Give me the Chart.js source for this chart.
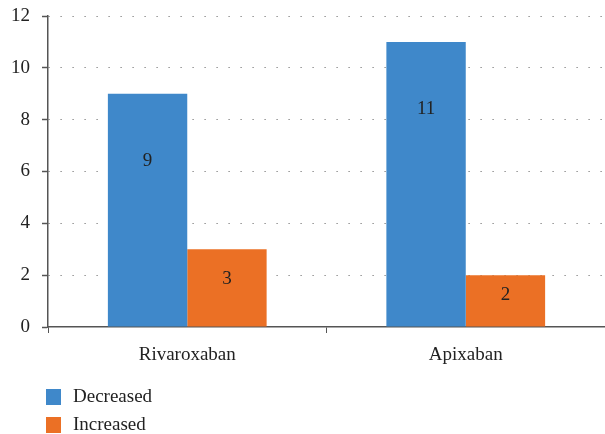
<!DOCTYPE html>
<html>
<head>
<meta charset="utf-8">
<script src="https://cdn.jsdelivr.net/npm/chart.js@4"></script>
<style>
  html, body { margin: 0; padding: 0; background: #fff; }
  #wrap { width: 605px; height: 434px; position: relative; }
</style>
</head>
<body>
<div id="wrap"><canvas id="c" width="605" height="434"></canvas></div>
<script>
// Data
const categories = ['Rivaroxaban', 'Apixaban'];
const decreased = [9, 11];
const increased = [3, 2];
const seriesNames = ['Decreased', 'Increased'];
const yTicks = [0, 2, 4, 6, 8, 10, 12];

const BLUE = '#3F88CA';
const ORANGE = '#EB7025';
const FONT = '"Liberation Serif", "DejaVu Serif", serif';

// Value labels drawn inside each bar
const barLabels = {
  id: 'barLabels',
  afterDatasetsDraw(chart) {
    const ctx = chart.ctx;
    ctx.save();
    ctx.font = '19px ' + FONT;
    ctx.fillStyle = '#222';
    ctx.textAlign = 'center';
    ctx.textBaseline = 'middle';
    chart.data.datasets.forEach((ds, di) => {
      chart.getDatasetMeta(di).data.forEach((bar, i) => {
        const h = bar.base - bar.y;
        const off = Math.min(67, h * 0.38);
        ctx.fillText(String(ds.data[i]), bar.x, bar.y + off);
      });
    });
    ctx.restore();
  }
};

// Vertical legend at the bottom left
const stackedLegend = {
  id: 'stackedLegend',
  afterDraw(chart) {
    const ctx = chart.ctx;
    ctx.save();
    ctx.font = '19px ' + FONT;
    ctx.textBaseline = 'middle';
    ctx.textAlign = 'left';
    chart.data.datasets.forEach((ds, i) => {
      const cy = 397 + i * 28;
      ctx.fillStyle = ds.backgroundColor;
      ctx.fillRect(46, cy - 8, 15, 16);
      ctx.fillStyle = '#222';
      ctx.fillText(ds.label, 73, cy);
    });
    ctx.restore();
  }
};

new Chart(document.getElementById('c'), {
  type: 'bar',
  data: {
    labels: categories,
    datasets: [
      { label: seriesNames[0], data: decreased, backgroundColor: BLUE },
      { label: seriesNames[1], data: increased, backgroundColor: ORANGE }
    ]
  },
  options: {
    responsive: false,
    animation: false,
    layout: { padding: { top: 16, right: 0, left: 0, bottom: 62 } },
    plugins: {
      legend: { display: false },
      tooltip: { enabled: false }
    },
    datasets: {
      bar: { barPercentage: 1.0, categoryPercentage: 0.57 }
    },
    scales: {
      x: {
        offset: true,
        border: { display: true, color: '#555', width: 1.5 },
        grid: {
          display: true,
          drawOnChartArea: false,
          drawTicks: true,
          tickLength: 6,
          tickColor: '#555',
          offset: true
        },
        ticks: {
          color: '#222',
          font: { family: FONT, size: 19 },
          padding: 11
        },
        afterFit(scale) { scale.height = 45; scale.paddingLeft = 0; scale.paddingRight = 0; }
      },
      y: {
        min: 0,
        max: 12,
        afterBuildTicks(scale) { scale.ticks = yTicks.map(v => ({ value: v })); },
        border: { display: true, color: '#555', width: 1.5, dash: [1.2, 10.8] },
        grid: {
          color: (c) => c.tick && c.tick.value === 0 ? 'rgba(0,0,0,0)' : '#777',
          lineWidth: 1,
          tickLength: 6,
          tickColor: '#555',
          tickBorderDash: [],
          tickWidth: 1.5
        },
        ticks: {
          color: '#222',
          font: { family: FONT, size: 19 },
          padding: 12
        },
        afterFit(scale) { scale.width = 48; scale.paddingTop = 0; scale.paddingBottom = 0; }
      }
    }
  },
  plugins: [barLabels, stackedLegend]
});
</script>
</body>
</html>
